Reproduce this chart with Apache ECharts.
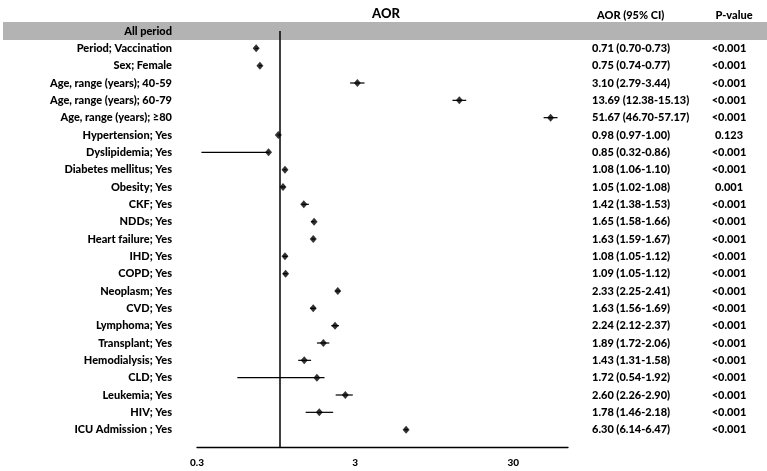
<!DOCTYPE html>
<html>
<head>
<meta charset="utf-8">
<script src="https://cdn.jsdelivr.net/npm/echarts@6/dist/echarts.min.js"></script>
<style>
  html, body { margin: 0; padding: 0; background: #fff; }
  #forest { width: 767px; height: 471px; }
</style>
</head>
<body>
<div id="forest"></div>
<script>
  const labels = [
    'All period',
    'Period; Vaccination',
    'Sex; Female',
    'Age, range (years); 40-59',
    'Age, range (years); 60-79',
    'Age, range (years); ≥80',
    'Hypertension; Yes',
    'Dyslipidemia; Yes',
    'Diabetes mellitus; Yes',
    'Obesity; Yes',
    'CKF; Yes',
    'NDDs; Yes',
    'Heart failure; Yes',
    'IHD; Yes',
    'COPD; Yes',
    'Neoplasm; Yes',
    'CVD; Yes',
    'Lymphoma; Yes',
    'Transplant; Yes',
    'Hemodialysis; Yes',
    'CLD; Yes',
    'Leukemia; Yes',
    'HIV; Yes',
    'ICU Admission ; Yes'
  ];
  // null = header row, no estimate
  const aor = [null, 0.71, 0.75, 3.10, 13.69, 51.67, 0.98, 0.85, 1.08, 1.05, 1.42, 1.65, 1.63, 1.08, 1.09, 2.33, 1.63, 2.24, 1.89, 1.43, 1.72, 2.60, 1.78, 6.30];
  const ciLow = [null, 0.70, 0.74, 2.79, 12.38, 46.70, 0.97, 0.32, 1.06, 1.02, 1.38, 1.58, 1.59, 1.05, 1.05, 2.25, 1.56, 2.12, 1.72, 1.31, 0.54, 2.26, 1.46, 6.14];
  const ciHigh = [null, 0.73, 0.77, 3.44, 15.13, 57.17, 1.00, 0.86, 1.10, 1.08, 1.53, 1.66, 1.67, 1.12, 1.12, 2.41, 1.69, 2.37, 2.06, 1.58, 1.92, 2.90, 2.18, 6.47];
  const pValues = ['', '<0.001', '<0.001', '<0.001', '<0.001', '<0.001', '0.123', '<0.001', '<0.001', '0.001', '<0.001', '<0.001', '<0.001', '<0.001', '<0.001', '<0.001', '<0.001', '<0.001', '<0.001', '<0.001', '<0.001', '<0.001', '<0.001', '<0.001'];
  const xTicks = [0.3, 3, 30];

  const font = 'Lato, "Open Sans", sans-serif';

  function initChart() {
    const chart = echarts.init(document.getElementById('forest'));
    // extra empty slot at the end so the x axis sits one row under the last item
    const rows = labels.concat(['']);
    const aorText = aor.map((v, i) =>
      v == null ? '' : `${v.toFixed(2)} (${ciLow[i].toFixed(2)}-${ciHigh[i].toFixed(2)})`
    ).concat(['']);
    const pText = pValues.concat(['']);
    const catAxis = {
      type: 'category',
      inverse: true,
      boundaryGap: false,
      axisLine: { show: false },
      axisTick: { show: false },
      splitLine: { show: false }
    };
    const labelStyle = {
      fontFamily: font,
      fontSize: 11,
      fontWeight: 900,
      color: '#000'
    };

    chart.setOption({
      animation: false,
      textStyle: { fontFamily: font },
      title: [
        {
          text: 'AOR',
          left: 381,
          top: 2,
          textAlign: 'center',
          textStyle: { ...labelStyle, fontSize: 13 }
        },
        {
          text: 'AOR (95% CI)',
          left: 592,
          top: 5,
          textStyle: labelStyle
        },
        {
          text: 'P-value',
          left: 729,
          top: 5,
          textAlign: 'center',
          textStyle: labelStyle
        }
      ],
      graphic: [
        {
          type: 'rect',
          z: -1,
          shape: { x: 3, y: 22, width: 764, height: 18 },
          style: { fill: '#b3b3b3' }
        }
      ],
      grid: {
        top: 31,
        bottom: 24,
        left: 197,
        right: 199
      },
      xAxis: {
        type: 'log',
        logBase: 10,
        min: 0.3,
        max: 66.6,
        axisLine: { show: true, lineStyle: { color: '#000', width: 1.3 } },
        axisTick: { show: false },
        splitLine: { show: false },
        axisLabel: {
          ...labelStyle,
          customValues: xTicks,
          margin: 11,
          fontSize: 10,
          formatter: (v) => String(+Number(v).toPrecision(2))
        }
      },
      yAxis: [
        {
          ...catAxis,
          data: rows,
          axisLabel: { ...labelStyle, margin: 25 }
        },
        {
          ...catAxis,
          position: 'right',
          data: aorText,
          axisLabel: { ...labelStyle, margin: 24, align: 'left' }
        },
        {
          ...catAxis,
          position: 'right',
          data: pText,
          axisLabel: { ...labelStyle, margin: 161, align: 'center' }
        }
      ],
      series: [
        {
          type: 'custom',
          // 95% CI whiskers: [low, row, high]
          data: aor.map((v, i) => (v == null ? null : [ciLow[i], i, ciHigh[i]])).filter((d) => d),
          renderItem: function (params, api) {
            const lo = api.coord([api.value(0), api.value(1)]);
            const hi = api.coord([api.value(2), api.value(1)]);
            return {
              type: 'line',
              shape: { x1: lo[0], y1: lo[1], x2: hi[0], y2: hi[1] },
              style: { stroke: '#000', lineWidth: 1.2 }
            };
          }
        },
        {
          type: 'scatter',
          symbol: 'diamond',
          symbolSize: [7, 8],
          itemStyle: { color: '#000' },
          data: aor.map((v, i) => (v == null ? null : [v, i])).filter((d) => d),
          z: 3,
          markLine: {
            silent: true,
            symbol: 'none',
            label: { show: false },
            lineStyle: { color: '#000', width: 1.5, type: 'solid' },
            data: [{ xAxis: 1 }]
          }
        }
      ]
    });
  }

  initChart();
</script>
</body>
</html>
